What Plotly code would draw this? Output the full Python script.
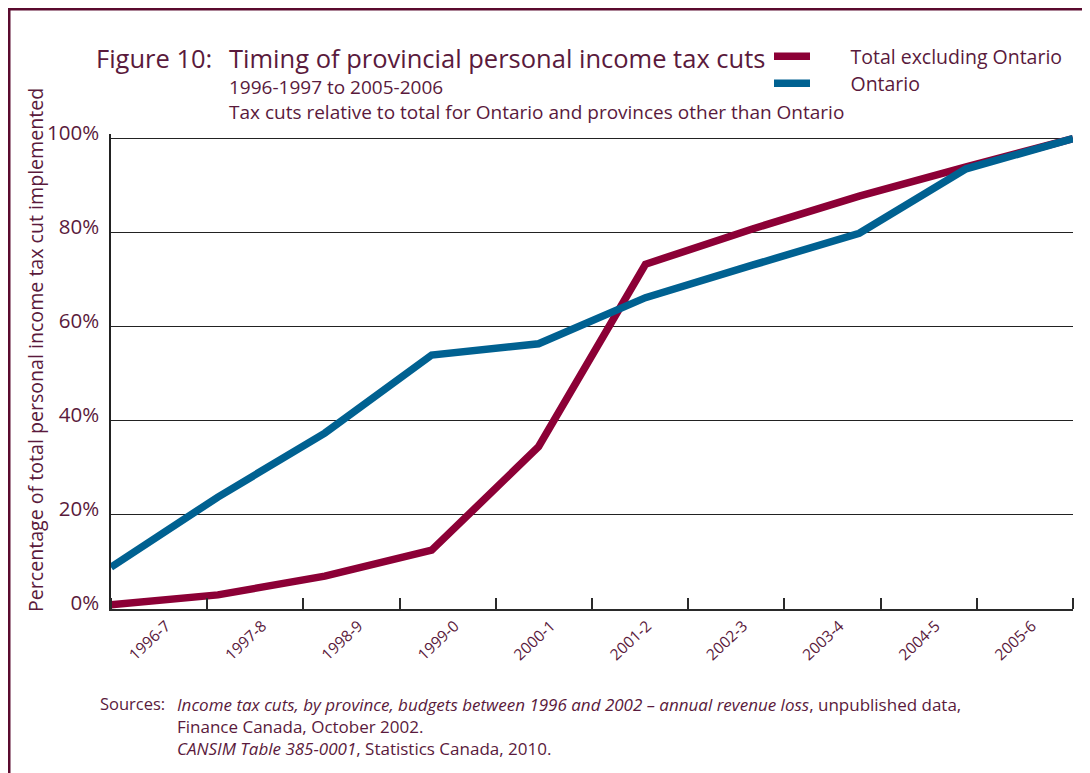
import plotly.graph_objects as go

# fiscal years (categories on the x axis)
years = ["1996-7", "1997-8", "1998-9", "1999-0", "2000-1",
         "2001-2", "2002-3", "2003-4", "2004-5", "2005-6"]

# cumulative share of the tax cut implemented, %
total_excl_ontario = [0.9, 3.0, 7.0, 12.5, 34.5, 73.3, 80.8, 87.8, 94.0, 100.0]
ontario = [8.9, 23.8, 37.4, 54.0, 56.4, 66.2, 73.1, 79.9, 93.6, 100.0]

y_ticks = [0, 20, 40, 60, 80, 100]
y_tick_labels = ["0%", "20%", "40%", "60%", "80%", "100%"]

MAROON = "#8c0036"
BLUE = "#006191"
TEXT = "#5a1a3c"
FONT = "Open Sans"

# the page adds an 8px body margin, so the figure is 8px smaller and
# everything below is given in page pixels
OFF = 8
W, H = 1090 - OFF, 773 - OFF
X0, X1, Y0, Y1 = 111, 1073, 134, 609   # plot area on the page


def px(x):
    return (x - X0) / (X1 - X0)


def py(y):
    return (Y1 - y) / (Y1 - Y0)


n = len(years)
pos = list(range(n))
step = (n - 1) / n
centers = [step * (i + 0.5) for i in range(n)]
bounds = [step * i for i in range(n + 1)]

pad = "\u00a0" * 7
fig = go.Figure()
fig.add_trace(go.Scatter(x=pos, y=total_excl_ontario, mode="lines",
                         name=pad + "Total excluding Ontario", legend="legend",
                         line=dict(color=MAROON, width=7.5)))
fig.add_trace(go.Scatter(x=pos, y=ontario, mode="lines", name=pad + "Ontario",
                         legend="legend2",
                         line=dict(color=BLUE, width=7.5)))

leg = dict(xanchor="left", yanchor="top", bgcolor="rgba(0,0,0,0)",
           font=dict(size=19.5, color=TEXT), itemwidth=36)

fig.update_layout(
    width=W, height=H,
    margin=dict(l=X0 - OFF, r=W - (X1 - OFF), t=Y0 - OFF, b=H - (Y1 - OFF)),
    paper_bgcolor="#f2e9de",
    plot_bgcolor="white",
    font=dict(family=FONT, color=TEXT),
    showlegend=True,
    legend=dict(leg, x=px(769), y=py(37)),
    legend2=dict(leg, x=px(769), y=py(64)),
    xaxis=dict(range=[0, n - 1], tickmode="array", tickvals=centers,
               ticktext=years, ticks="", tickangle=-43, ticklabelshift=7,
               tickfont=dict(size=15.5, color=TEXT),
               showgrid=False, zeroline=False,
               showline=True, linecolor="#2a2a2a", linewidth=2,
               minor=dict(tickmode="array", tickvals=bounds, ticks="inside",
                          ticklen=11, tickwidth=1.5, tickcolor="#2a2a2a",
                          showgrid=False)),
    yaxis=dict(range=[0, 101], tickmode="array", tickvals=y_ticks,
               ticktext=y_tick_labels, ticks="",
               tickfont=dict(size=20.5, color=TEXT),
               ticklabelstandoff=6, ticklabelshift=-6,
               showgrid=True, gridcolor="#222222", gridwidth=1.2,
               zeroline=False, showline=True, linecolor="#222222",
               linewidth=1.5),
)

# white panel with a dark border
fig.add_shape(type="rect", xref="paper", yref="paper", layer="below",
              x0=px(9), x1=px(1110), y0=py(800), y1=py(9),
              fillcolor="white", line=dict(color="#5a0a2e", width=3))

annots = [
    dict(x=px(94), y=py(57.5), text="Figure 10:", size=25.5),
    dict(x=px(227), y=py(57.5), text="Timing of provincial personal income tax cuts", size=25.5),
    dict(x=px(227), y=py(87), text="1996-1997 to 2005-2006", size=19),
    dict(x=px(227), y=py(112), text="Tax cuts relative to total for Ontario and provinces other than Ontario", size=19),
]
for a in annots:
    fig.add_annotation(x=a["x"], y=a["y"], xref="paper", yref="paper",
                       text=a["text"], showarrow=False, xanchor="left",
                       yanchor="middle", font=dict(size=a["size"], color=TEXT))

fig.add_annotation(x=px(35), y=py(350), xref="paper", yref="paper",
                   text="Percentage of total personal income tax cut implemented",
                   textangle=-90, showarrow=False, xanchor="center",
                   yanchor="middle", font=dict(size=19.6, color=TEXT))

fig.add_annotation(x=px(98), y=py(703), xref="paper", yref="paper",
                   text="Sources:", showarrow=False, xanchor="left",
                   yanchor="middle", font=dict(size=16.5, color=TEXT))
fig.add_annotation(
    x=px(175), y=py(690.5), xref="paper", yref="paper",
    text=("<i>Income tax cuts, by province, budgets between 1996 and 2002 \u2013 "
          "annual revenue loss</i>, unpublished data,<br>"
          "Finance Canada, October 2002.<br>"
          "<i>CANSIM Table 385-0001</i>, Statistics Canada, 2010."),
    showarrow=False, xanchor="left", yanchor="top", align="left",
    font=dict(size=17, color=TEXT))

fig.write_html("out.html")
